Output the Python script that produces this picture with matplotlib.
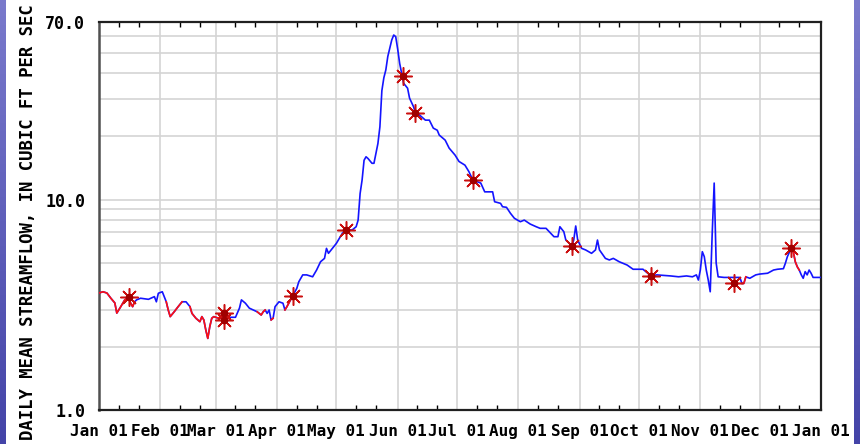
import matplotlib
matplotlib.use("Agg")
import matplotlib.pyplot as plt
import numpy as np
from matplotlib.ticker import FixedLocator, NullFormatter

# daily mean flow, day of year (0 = Jan 01) and discharge in cfs
day = [0, 2, 4, 6, 8, 9, 11, 13, 15, 16, 17, 18, 19, 21, 25, 28, 29, 30, 32, 33,
       34, 35, 36, 38, 40, 42, 44, 46, 47, 49, 51, 52, 53, 54, 55, 56, 57, 58, 60, 63,
       64, 69, 71, 72, 74, 76, 78, 80, 82, 83, 84, 85, 86, 87, 88, 89, 91, 93, 94, 95,
       98, 100, 101, 103, 105, 108, 110, 112, 114, 115, 116, 118, 120, 123, 125, 128, 130, 131, 132, 133,
       134, 135, 136, 138, 139, 140, 141, 142, 143, 144, 145, 146, 147, 148, 149, 150, 151, 152, 153, 154,
       156, 157, 159, 160, 162, 165, 167, 169, 171, 172, 175, 177, 180, 182, 185, 187, 189, 192, 193, 195,
       199, 200, 203, 204, 206, 208, 210, 213, 215, 218, 221, 223, 226, 230, 232, 233, 235, 236, 239, 240,
       241, 242, 244, 246, 249, 251, 252, 253, 256, 258, 260, 263, 267, 270, 275, 279, 282, 289, 293, 297,
       300, 302, 303, 304, 305, 306, 307, 308, 309, 310, 311, 312, 313, 316, 321, 324, 325, 326, 327, 329,
       332, 334, 338, 341, 343, 346, 347, 348, 350, 351, 352, 353, 354, 355, 356, 357, 358, 359, 360, 361,
       365]
cfs = [3.60, 3.65, 3.60, 3.40, 3.23, 2.89, 3.10, 3.34, 3.43, 3.22, 3.10, 3.27, 3.34, 3.40, 3.36, 3.46, 3.27, 3.59, 3.65, 3.46,
       3.27, 2.99, 2.78, 2.93, 3.10, 3.27, 3.27, 3.10, 2.88, 2.73, 2.63, 2.78, 2.68, 2.40, 2.19, 2.49, 2.73, 2.78, 2.74, 2.77,
       2.76, 2.76, 3.05, 3.34, 3.22, 3.05, 2.99, 2.93, 2.83, 2.93, 2.99, 2.88, 2.99, 2.68, 2.73, 3.10, 3.27, 3.22, 2.99, 3.10,
       3.50, 3.79, 4.07, 4.39, 4.39, 4.30, 4.63, 5.07, 5.26, 5.87, 5.56, 5.87, 6.20, 6.92, 7.18, 7.18, 7.44, 8.00, 10.7, 12.4,
       15.4, 16.0, 15.7, 14.9, 14.9, 16.6, 18.5, 22.2, 33.0, 38.0, 41.4, 48.0, 52.5, 57.5, 60.7, 59.6, 52.0, 44.5, 40.0, 35.8,
       33.9, 30.4, 27.7, 25.9, 25.3, 23.9, 23.9, 21.9, 21.4, 20.3, 19.2, 17.6, 16.3, 15.2, 14.6, 13.6, 12.4, 12.1, 12.0, 10.9,
       10.9, 9.78, 9.61, 9.26, 9.20, 8.62, 8.16, 7.86, 8.00, 7.66, 7.44, 7.31, 7.31, 6.67, 6.67, 7.44, 7.04, 6.43, 6.04, 6.43,
       7.50, 6.43, 5.87, 5.77, 5.56, 5.77, 6.43, 5.77, 5.26, 5.17, 5.26, 5.07, 4.89, 4.67, 4.67, 4.34, 4.39, 4.34, 4.30, 4.34,
       4.30, 4.39, 4.15, 4.63, 5.66, 5.36, 4.63, 4.15, 3.65, 6.90, 12.0, 5.00, 4.30, 4.27, 4.27, 4.27, 4.00, 4.00, 4.30, 4.23,
       4.39, 4.43, 4.47, 4.63, 4.67, 4.70, 4.99, 5.36, 5.91, 5.66, 5.07, 4.80, 4.63, 4.40, 4.23, 4.55, 4.39, 4.63, 4.47, 4.27,
       4.27]

# periods drawn in red (estimated record)
est_ranges = [(0, 18), (34, 42), (46, 63), (80, 84), (87, 88), (94, 98), (325, 327), (351, 354)]

# field measurements
meas_day = [15, 63, 63, 98, 125, 153.5, 160, 189, 239, 279, 321, 350]
meas_cfs = [3.43, 2.89, 2.68, 3.50, 7.18, 38.7, 25.9, 12.4, 6.04, 4.34, 4.00, 5.91]

month_start = [0, 31, 59, 90, 120, 151, 181, 212, 243, 273, 304, 334, 365]
month_labels = ["Jan 01", "Feb 01", "Mar 01", "Apr 01", "May 01", "Jun 01", "Jul 01",
                "Aug 01", "Sep 01", "Oct 01", "Nov 01", "Dec 01", "Jan 01"]
y_ticks = [1.0, 10.0, 70.0]

mono = {"family": "DejaVu Sans Mono", "weight": "bold"}

fig = plt.figure(figsize=(8.6, 4.44), dpi=100)
fig.patch.set_facecolor("white")

# blue side strips
grad = np.linspace(0, 1, 256).reshape(-1, 1)
from matplotlib.colors import LinearSegmentedColormap
strip_cmap = LinearSegmentedColormap.from_list("strip", ["#7a7acc", "#4444a8"])
for x0 in (0.0, 854 / 860):
    sax = fig.add_axes([x0, 0, 6 / 860, 1])
    sax.imshow(grad, aspect="auto", cmap=strip_cmap, extent=[0, 1, 0, 1])
    sax.axis("off")

ax = fig.add_axes([99 / 860, 34 / 444, 722 / 860, 388 / 444])
ax.set_yscale("log")
ax.set_xlim(0, 365)
ax.set_ylim(1, 70)

day = np.array(day, dtype=float)
cfs = np.array(cfs)
est = np.zeros(len(day), dtype=bool)
for a, b in est_ranges:
    est |= (day >= a) & (day <= b)

ax.plot(day, cfs, color="#1414ff", lw=1.2, zorder=3)
ax.plot(day, np.where(est, cfs, np.nan), color="#ff1010", lw=1.2, zorder=4)

ax.plot(meas_day, meas_cfs, linestyle="none", marker=(8, 2, 0), markersize=13,
        markeredgecolor="#cc1010", markeredgewidth=1.1, zorder=5)
ax.plot(meas_day, meas_cfs, linestyle="none", marker="o", markersize=4.5,
        markerfacecolor="#a00000", markeredgecolor="#a00000", zorder=6)

# axes and grid
ax.set_yticks(y_ticks)
ax.set_yticklabels(["%.1f" % v for v in y_ticks], fontdict=mono, fontsize=12)
ax.yaxis.set_minor_locator(FixedLocator([2, 3, 4, 5, 6, 7, 8, 9, 20, 30, 40, 50, 60]))
ax.yaxis.set_minor_formatter(NullFormatter())
ax.tick_params(axis="y", which="both", length=0, pad=10)

ax.set_xticks(month_start)
ax.set_xticklabels(month_labels, fontdict=mono, fontsize=11.5)
minor_days = [m + k for m in month_start[:-1] for k in (10, 20)]
ax.set_xticks(minor_days, minor=True)
ax.tick_params(axis="x", which="major", length=0, pad=10)
ax.tick_params(axis="x", which="minor", direction="in", length=3.5, width=1,
               top=True, bottom=True, color="black")

ax.grid(True, axis="x", which="major", color="#d4d4d4", lw=1.2, zorder=0)
ax.grid(True, axis="y", which="both", color="#d4d4d4", lw=1.2, zorder=0)
ax.set_axisbelow(True)

for side in ("top", "bottom", "right"):
    ax.spines[side].set_linewidth(1.6)
    ax.spines[side].set_color("#202020")
ax.spines["left"].set_linewidth(1.8)
ax.spines["left"].set_color("#505050")

fig.text(28 / 860, 0.5, "DAILY MEAN STREAMFLOW, IN CUBIC FT PER SEC", rotation=90,
         ha="center", va="center", fontsize=12.4, **mono)

fig.savefig("out.png", dpi=100)
